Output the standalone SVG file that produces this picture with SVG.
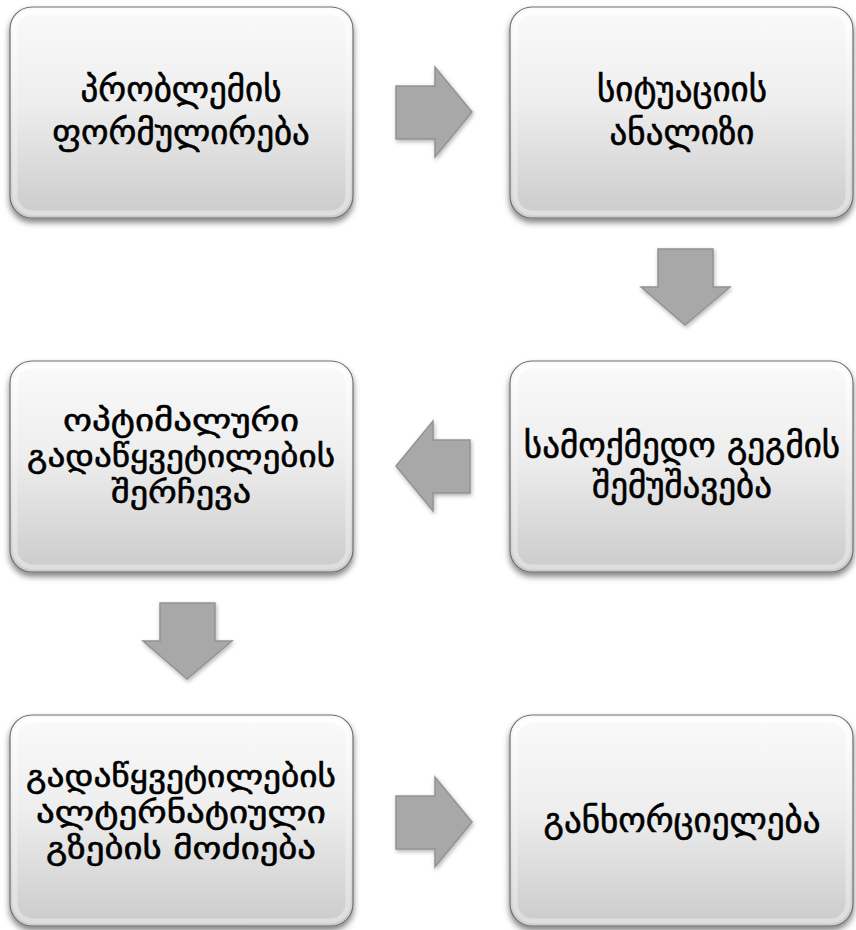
<svg xmlns="http://www.w3.org/2000/svg" width="856" height="930" viewBox="0 0 856 930">
<defs>
<linearGradient id="boxg" x1="0" y1="0" x2="0" y2="1">
<stop offset="0" stop-color="#fafafa"/>
<stop offset="0.45" stop-color="#eeeeee"/>
<stop offset="1" stop-color="#cbcbcb"/>
</linearGradient>
<linearGradient id="rim" x1="0" y1="0" x2="0" y2="1">
<stop offset="0" stop-color="#ffffff"/>
<stop offset="1" stop-color="#e0e0e0"/>
</linearGradient>
<filter id="sh" x="-10%" y="-10%" width="120%" height="125%">
<feGaussianBlur in="SourceAlpha" stdDeviation="3"/>
<feOffset dx="0" dy="4" result="b"/>
<feComponentTransfer><feFuncA type="linear" slope="0.5"/></feComponentTransfer>
<feMerge><feMergeNode/><feMergeNode in="SourceGraphic"/></feMerge>
</filter>
<filter id="ash" x="-20%" y="-20%" width="140%" height="140%">
<feGaussianBlur in="SourceAlpha" stdDeviation="2"/>
<feOffset dx="1" dy="2"/>
<feComponentTransfer><feFuncA type="linear" slope="0.3"/></feComponentTransfer>
<feMerge><feMergeNode/><feMergeNode in="SourceGraphic"/></feMerge>
</filter>
</defs>
<style>
.box{fill:url(#boxg);stroke:#6f6f6f;stroke-width:1.2;filter:url(#sh)}
.inner{fill:none;stroke:url(#rim);stroke-width:5;opacity:0.9}
.lbl{font-family:"DejaVu Sans",sans-serif;font-size:35px;fill:#000;stroke:#000;stroke-width:0.6;text-anchor:middle}
.lbl3{font-family:"DejaVu Sans",sans-serif;font-size:30px;fill:#000;stroke:#000;stroke-width:0.55;text-anchor:middle}
.arr{fill:#a8a8a8;stroke:#939393;stroke-width:1.5;filter:url(#ash)}
</style>
<g id="n1">
<rect class="box" x="10" y="7" width="343" height="211" rx="22"/>
<rect class="inner" x="15" y="12" width="333" height="201" rx="18"/>
<text class="lbl" x="181" y="101">პრობლემის</text>
<text class="lbl" x="181" y="144">ფორმულირება</text>
</g>
<g id="n2">
<rect class="box" x="510" y="7" width="343" height="211" rx="22"/>
<rect class="inner" x="515" y="12" width="333" height="201" rx="18"/>
<text class="lbl" x="682" y="101">სიტუაციის</text>
<text class="lbl" x="682" y="144">ანალიზი</text>
</g>
<g id="n3">
<rect class="box" x="510" y="361" width="343" height="211" rx="22"/>
<rect class="inner" x="515" y="366" width="333" height="201" rx="18"/>
<text class="lbl" x="682" y="457">სამოქმედო გეგმის</text>
<text class="lbl" x="682" y="497">შემუშავება</text>
</g>
<g id="n4">
<rect class="box" x="10" y="361" width="343" height="211" rx="22"/>
<rect class="inner" x="15" y="366" width="333" height="201" rx="18"/>
<text class="lbl3" x="181" y="431" textLength="236" lengthAdjust="spacingAndGlyphs">ოპტიმალური</text>
<text class="lbl3" x="181" y="467" textLength="308" lengthAdjust="spacingAndGlyphs">გადაწყვეტილების</text>
<text class="lbl3" x="181" y="503" textLength="140" lengthAdjust="spacingAndGlyphs">შერჩევა</text>
</g>
<g id="n5">
<rect class="box" x="10" y="715" width="343" height="211" rx="22"/>
<rect class="inner" x="15" y="720" width="333" height="201" rx="18"/>
<text class="lbl3" x="181" y="787" textLength="310" lengthAdjust="spacingAndGlyphs">გადაწყვეტილების</text>
<text class="lbl3" x="181" y="823" textLength="290" lengthAdjust="spacingAndGlyphs">ალტერნატიული</text>
<text class="lbl3" x="181" y="859" textLength="270" lengthAdjust="spacingAndGlyphs">გზების მოძიება</text>
</g>
<g id="n6">
<rect class="box" x="510" y="715" width="343" height="211" rx="22"/>
<rect class="inner" x="515" y="720" width="333" height="201" rx="18"/>
<text class="lbl" x="682" y="832">განხორციელება</text>
</g>
<g id="connectors">
<path class="arr" d="M396,86 H435 V67 L472,112 L435,157 V139 H396 Z"/>
<path class="arr" d="M658,249 H713 V287 H730 L685,325 L641,287 H658 Z"/>
<path class="arr" d="M470,440 H433 V421 L396,466 L433,511 V493 H470 Z"/>
<path class="arr" d="M160,603 H215 V641 H232 L187,679 L143,641 H160 Z"/>
<path class="arr" d="M396,796 H435 V777 L472,822 L435,867 V849 H396 Z"/>
</g>
</svg>
